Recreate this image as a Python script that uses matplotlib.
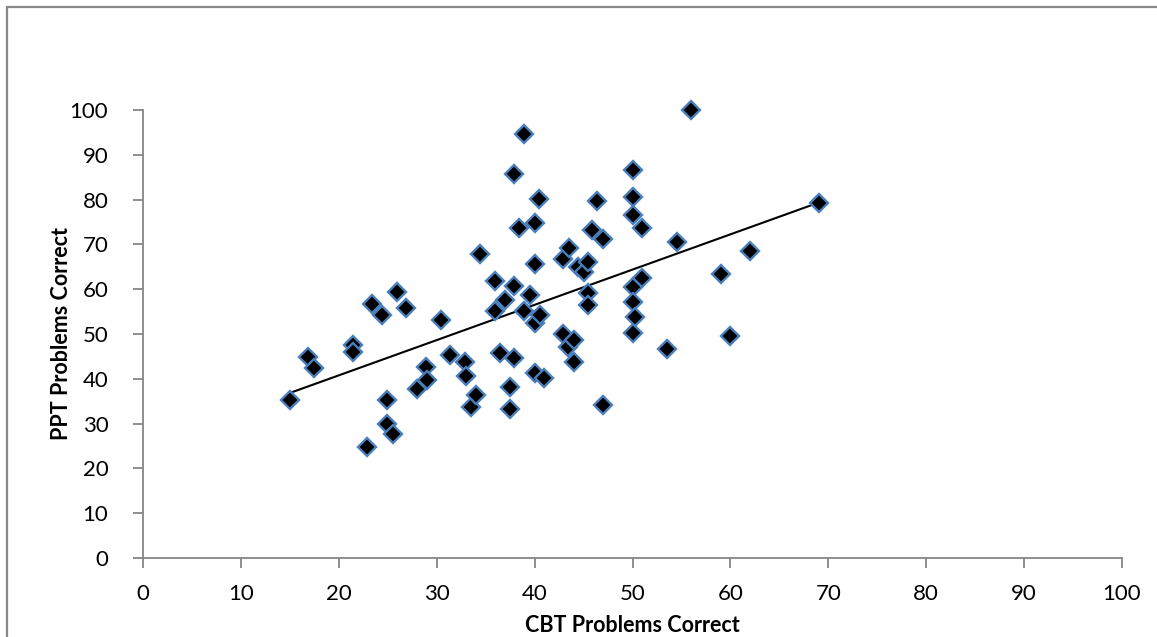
import numpy as np
import matplotlib.pyplot as plt
from matplotlib.patches import Rectangle

# CBT vs PPT problems correct
cbt = [15, 16.9, 17.5, 21.4, 21.4, 22.9, 23.4, 24.4, 24.9, 24.9, 25.5, 25.9, 26.9,
       28.0, 28.9, 29.0, 30.4, 31.4, 32.9, 33.0, 33.5, 34.0, 34.4, 36.0, 36.0,
       36.5, 37.0, 37.5, 37.5, 37.9, 37.9, 37.9, 38.4, 38.9, 38.9, 39.5, 40.0,
       40.0, 40.0, 40.0, 40.45, 40.6, 41.0, 42.9, 42.9, 43.4, 43.5, 44.0, 44.0,
       44.4, 45.0, 45.5, 45.5, 45.5, 45.9, 46.4, 47.0, 47.0, 50.0, 50.0, 50.0,
       50.0, 50.0, 50.0, 50.3, 51.0, 51.0, 53.5, 54.5, 56.0, 59.0, 60.0, 62.0, 69.0]
ppt = [35.3, 44.8, 42.5, 47.5, 45.9, 24.8, 56.8, 54.2, 35.3, 29.9, 27.7, 59.3, 55.7,
       37.7, 42.7, 39.7, 53.2, 45.3, 43.8, 40.6, 33.6, 36.4, 67.8, 61.8, 55.2,
       45.8, 57.6, 38.2, 33.3, 85.7, 60.8, 44.7, 73.7, 94.6, 55.2, 58.8, 74.7,
       65.6, 52.5, 41.2, 80.1, 54.2, 40.1, 66.7, 49.9, 47.2, 69.3, 48.7, 43.7,
       65.0, 63.9, 66.1, 59.2, 56.5, 73.2, 79.7, 71.1, 34.2, 86.6, 80.6, 76.6,
       60.4, 57.2, 50.2, 53.7, 73.7, 62.4, 46.6, 70.6, 100.1, 63.3, 49.6, 68.6, 79.2]

x_ticks = list(range(0, 101, 10))
y_ticks = list(range(0, 101, 10))

plt.rcParams['font.family'] = ['Lato', 'DejaVu Sans']

fig = plt.figure(figsize=(11.57, 6.37), dpi=100)
ax = fig.add_axes([143 / 1157, 1 - 558 / 637, (1122 - 143) / 1157, (558 - 110) / 637])

# outer chart border (cut off on the right and bottom)
fig.patches.append(Rectangle((7 / 1157, -0.05), 1.1, 1 - 7 / 637 + 0.05,
                             transform=fig.transFigure, fill=False,
                             edgecolor='#888888', linewidth=1.6))

# linear trend line over the data range
coef = np.polyfit(cbt, ppt, 1)
xs = np.array([min(cbt), max(cbt)])
ax.plot(xs, np.polyval(coef, xs), color='black', linewidth=1.5, zorder=2)

ax.plot(cbt, ppt, linestyle='none', marker='D', markersize=9.5,
        markerfacecolor='black', markeredgecolor='#4a7ebb', markeredgewidth=1.7,
        zorder=3, clip_on=False)

ax.set_xlim(0, 100)
ax.set_ylim(0, 100)
ax.set_xticks(x_ticks)
ax.set_yticks(y_ticks)
for s in ['top', 'right']:
    ax.spines[s].set_visible(False)
for s in ['left', 'bottom']:
    ax.spines[s].set_color('#868686')
    ax.spines[s].set_linewidth(1.3)
ax.tick_params(axis='both', direction='out', length=7, width=1.3, color='#868686',
               labelsize=16, labelcolor='black')
ax.tick_params(axis='x', pad=12)
ax.tick_params(axis='y', pad=18)

ax.set_xlabel('CBT Problems Correct', fontsize=15.5, fontweight='bold', labelpad=8)
ax.set_ylabel('PPT Problems Correct', fontsize=15.5, fontweight='bold', labelpad=-2)

fig.savefig('out.png', dpi=100)
